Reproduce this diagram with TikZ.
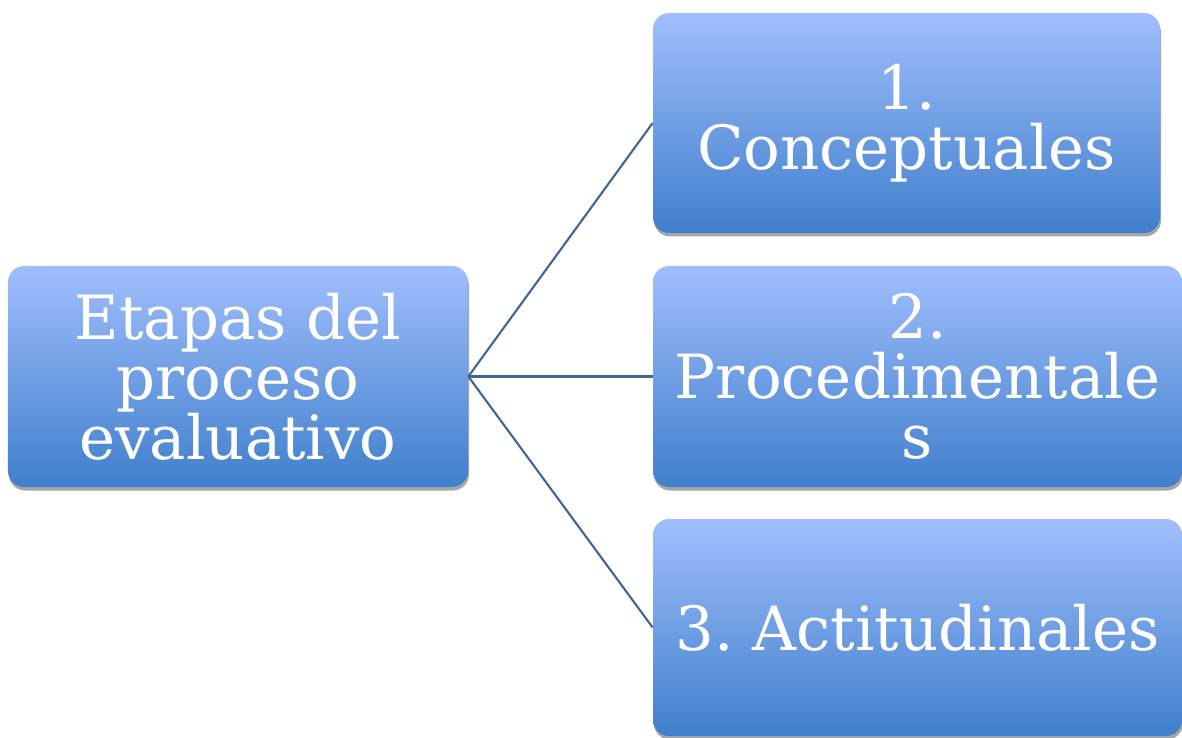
\documentclass[tikz,border=0pt]{standalone}
\usepackage{fontspec}
\setmainfont{DejaVu Serif}
\usepackage{tikz}
\usetikzlibrary{positioning, shadows}
\definecolor{boxtop}{RGB}{160,190,252}
\definecolor{boxbottom}{RGB}{64,127,204}
\definecolor{linkblue}{RGB}{63,100,151}
\frenchspacing

\tikzset{
  stage/.style={rounded corners=0.32cm, top color=boxtop, bottom color=boxbottom,
    text=white, align=center, inner sep=0pt,
    font=\fontsize{34.7}{34.2}\selectfont,
    drop shadow={shadow xshift=0.02cm, shadow yshift=-0.07cm, fill=black!35, opacity=1}},
  link/.style={draw=linkblue, line width=1.2pt}
}

\begin{document}
\begin{tikzpicture}
    \useasboundingbox (0,0) rectangle (23.64,14.74);

    % root
    \node[stage,minimum width=9.2cm,minimum height=4.42cm] (root) at (4.76,7.21) {Etapas del\\proceso\\evaluativo};

    % stages
    \node[stage,minimum width=10.14cm,minimum height=4.4cm] (conc) at (18.13,12.28) {1.\\Conceptuales};
    \node[stage,minimum width=10.58cm,minimum height=4.42cm] (proc) at (18.35,7.21) {2.\\Procedimentale\\s};
    \node[stage,minimum width=10.58cm,minimum height=4.34cm] (acti) at (18.35,2.19) {3. Actitudinales};

    % links
    \draw[link] (root.east) -- (conc.west);
    \draw[link] (root.east) -- (proc.west);
    \draw[link] (root.east) -- (acti.west);
\end{tikzpicture}
\end{document}
